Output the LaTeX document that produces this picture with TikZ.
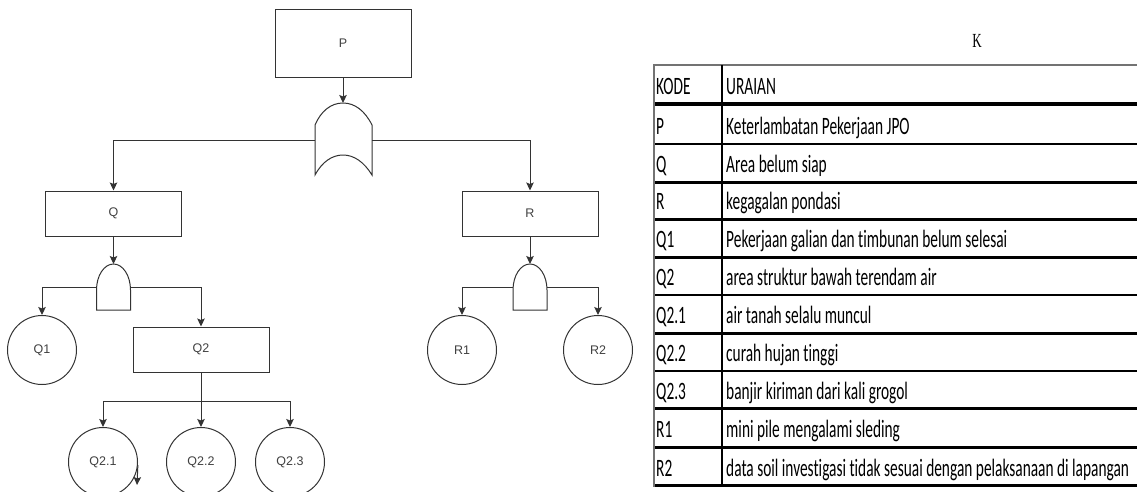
\documentclass[tikz,border=0pt]{standalone}
\usepackage{fontspec}
\setmainfont{Liberation Sans}
\newfontfamily\tblfont[FakeStretch=0.615,RawFeature={-liga;-dlig}]{Carlito}
\newfontfamily\kfont[FakeStretch=0.65]{Liberation Serif}
\usetikzlibrary{arrows.meta,calc}
\tikzset{
  ln/.style={draw=black!80, line width=1pt},
  arr/.style={ln, -{Stealth[length=8pt,width=7.5pt,inset=1.5pt]}},
  evbox/.style={draw=black!80, line width=1pt, minimum width=136pt, minimum height=45pt, inner sep=0pt,
    font=\fontsize{12.5}{14}\selectfont, text=black!75},
  evcirc/.style={draw=black!80, line width=1pt, circle, minimum size=69pt, inner sep=0pt,
    font=\fontsize{12.5}{14}\selectfont, text=black!75},
  gate/.style={draw=black!80, line width=1pt, fill=white},
  andg/.pic={
    \draw[gate] (-17,46) -- (-17,26) .. controls (-17,11.6) and (-9.4,0) .. (0,0)
      .. controls (9.4,0) and (17,11.6) .. (17,26) -- (17,46) -- cycle;
    \coordinate (-top) at (0,0);
    \coordinate (-l) at (-17,23);
    \coordinate (-r) at (17,23);
  },
  tbl/.style={font=\tblfont\fontsize{25}{26}\selectfont, anchor=base west, inner sep=0pt},
  hline/.style={draw=black, line width=2.5pt},
}
\begin{document}
\begin{tikzpicture}[x=1pt,y=-1pt]
\useasboundingbox (0,0) rectangle (1137,491);

% ---- fault tree ----
\node[evbox, minimum height=68pt] (P) at (343,43) {P};

\draw[gate] (315,175) -- (315,125) .. controls (321,111) and (331,103) .. (343,103)
  .. controls (355,103) and (365,111) .. (372,125) -- (372,175)
  .. controls (364,162) and (354,155) .. (343,155)
  .. controls (332,155) and (322,162) .. (315,175) -- cycle;
\coordinate (orT) at (343,103);
\coordinate (orL) at (315,140);
\coordinate (orR) at (372,140);

\node[evbox] (Q) at (113.5,213.5) {Q};
\node[evbox] (R) at (530,213.5) {R};

\pic (gQ) at (113.5,264) {andg};
\pic (gR) at (530,264) {andg};

\node[evcirc] (Q1) at (42,350) {Q1};
\node[evbox] (Q2) at (201,349.5) {Q2};
\node[evcirc] (R1) at (462,350) {R1};
\node[evcirc] (R2) at (598,350) {R2};

\node[evcirc] (Q21) at (103,462) {Q2.1};
\node[evcirc] (Q22) at (201,462) {Q2.2};
\node[evcirc] (Q23) at (290,462) {Q2.3};
\coordinate (jQ2) at (201,401);
\coordinate (art) at (137,485);

\draw[arr] (P.south) -- (orT);
\draw[arr] (orL) -| (Q.north);
\draw[arr] (orR) -| (R.north);
\draw[arr] (Q.south) -- (gQ-top);
\draw[arr] (R.south) -- (gR-top);
\draw[arr] (gQ-l) -| (Q1.north);
\draw[arr] (gQ-r) -| (Q2.north);
\draw[arr] (gR-l) -| (R1.north);
\draw[arr] (gR-r) -| (R2.north);
\draw[arr] (Q2.south) -- (Q22.north);
\draw[arr] (jQ2) -| (Q21.north);
\draw[arr] (jQ2) -| (Q23.north);
\draw[arr] (Q21.-5) -- (art);

% ---- K ----
\node[font=\kfont\fontsize{20}{20}\selectfont, inner sep=0pt] (K) at (977,41) {K};

% ---- table ----
\draw[draw=black!55, line width=1.6pt] (653,65) -- (1137,65);
\draw[draw=black, line width=4pt] (653,103.7) -- (1137,103.7);
\foreach \yy in {144,182.3,219.3,257.3,295,333.3,371,408.7,447.3}
  \draw[hline] (653,\yy) -- (1137,\yy);
\draw[draw=black, line width=3pt] (653,485.5) -- (1137,485.5);
\draw[draw=black!55, line width=1.5pt] (654,65) -- (654,487);
\draw[draw=black, line width=2.5pt] (722,65) -- (722,487);

\foreach \yy/\kk/\uu [count=\i] in {
  103.7/KODE/URAIAN,
  144/P/Keterlambatan Pekerjaan JPO,
  182.3/Q/Area belum siap,
  219.3/R/kegagalan pondasi,
  257.3/Q1/Pekerjaan galian dan timbunan belum selesai,
  295/Q2/area struktur bawah terendam air,
  333.3/Q2.1/air tanah selalu muncul,
  371/Q2.2/curah hujan tinggi,
  408.7/Q2.3/banjir kiriman dari kali grogol,
  447.3/R1/mini pile mengalami sleding,
  485.5/R2/data soil investigasi tidak sesuai dengan pelaksanaan di lapangan}{
  \node[tbl] (k\i) at (656,\yy-9.5) {\kk};
  \node[tbl] (u\i) at (726,\yy-9.5) {\uu};
}
\end{tikzpicture}
\end{document}
